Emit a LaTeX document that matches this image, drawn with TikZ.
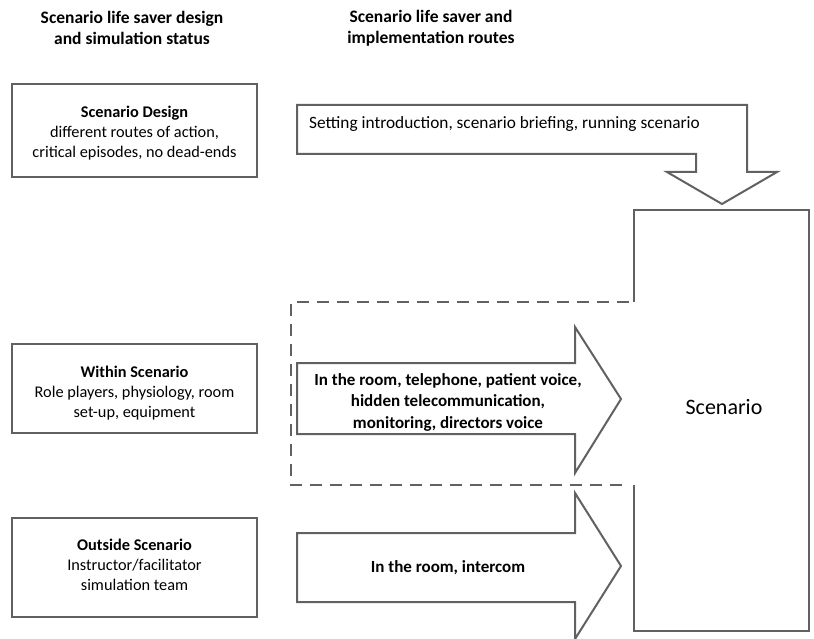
\documentclass[tikz,border=0pt]{standalone}
\usepackage{fontspec}
\setmainfont{Carlito}
\usepackage{tikz}
\usetikzlibrary{positioning}

\begin{document}
\begin{tikzpicture}[
  x=1pt, y=-1pt,
  line/.style={draw=black!62, line width=2pt, line join=miter},
  box/.style={line, rectangle, minimum width=245pt},
  status/.style={align=center, font=\fontsize{16.3}{20}\selectfont},
  head/.style={align=center, font=\bfseries\fontsize{17.5}{21}\selectfont},
  route/.style={align=center, inner sep=0pt, font=\fontsize{17.3}{21.5}\selectfont}
]
  \useasboundingbox (0,0) rectangle (814,639);

  \node[head] (hstatus) at (132,28) {Scenario life saver design\\and simulation status};
  \node[head] (hroutes) at (431,28) {Scenario life saver and\\implementation routes};

  \node[box, minimum height=93pt] (design) at (134.5,131) {};
  \node[box, minimum height=89pt] (within) at (134.5,388) {};
  \node[box, minimum height=99pt] (outside) at (134.5,567) {};
  \node[status] (designtext) at (134.5,133) {\textbf{Scenario Design}\\different routes of action,\\critical episodes, no dead-ends};
  \node[status] (withintext) at (134.5,393) {\textbf{Within Scenario}\\Role players, physiology, room\\set-up, equipment};
  \node[status] (outsidetext) at (134.5,565) {\textbf{Outside Scenario}\\Instructor/facilitator\\simulation team};

  % scenario box, open towards the dashed area
  \draw[line] (634,302) -- (634,210) -- (809,210) -- (809,631) -- (634,631) -- (634,485);
  \draw[line, dash pattern=on 12pt off 8pt] (629,302) -- (291,302) -- (291,485) -- (629,485);
  \node[font=\fontsize{22}{26}\selectfont] (scenario) at (724,407) {Scenario};

  % routes
  \draw[line] (297,105) -- (747,105) -- (747,172) -- (777,172) -- (722,204) -- (667,172)
    -- (696,172) -- (696,154) -- (297,154) -- cycle;
  \node[route, anchor=west] (briefing) at (309,124) {Setting introduction, scenario briefing, running scenario};

  \draw[line] (297,363) -- (575,363) -- (575,327) -- (621,399) -- (575,473) -- (575,434) -- (297,434) -- cycle;
  \node[route, font=\bfseries\fontsize{17}{21.5}\selectfont] (inroom) at (448,402) {In the room, telephone, patient voice,\\hidden telecommunication,\\monitoring, directors voice};

  \draw[line] (297,533) -- (575,533) -- (575,493) -- (621,566) -- (575,639) -- (575,602) -- (297,602) -- cycle;
  \node[route, font=\bfseries\fontsize{17}{21.5}\selectfont] (intercom) at (448,568) {In the room, intercom};
\end{tikzpicture}
\end{document}
